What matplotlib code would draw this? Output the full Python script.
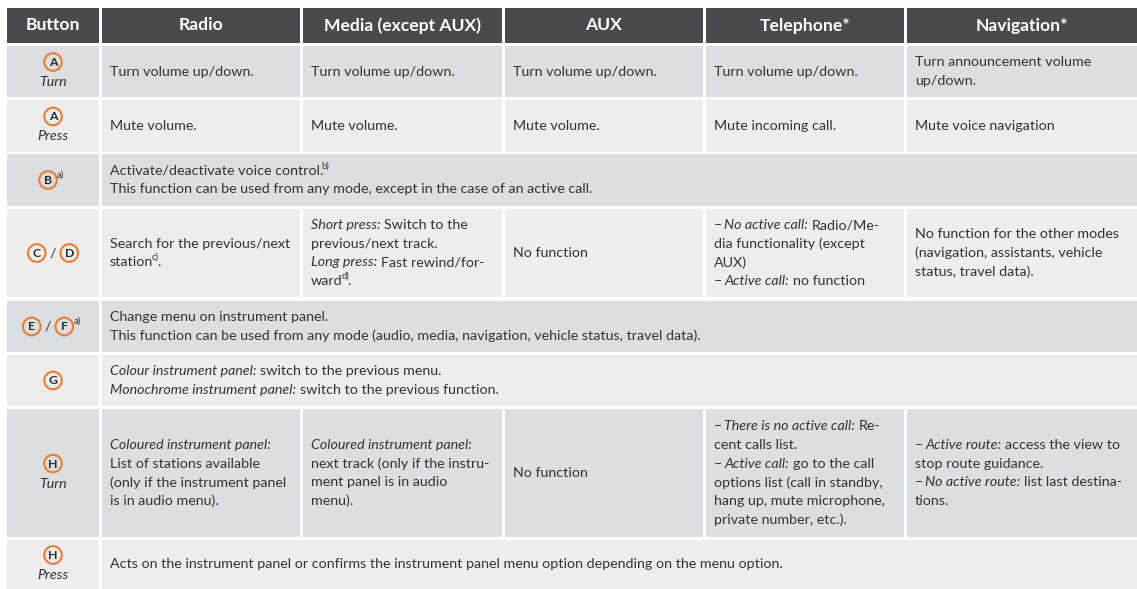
import re
import matplotlib.pyplot as plt
from matplotlib.patches import Rectangle, Circle

plt.rcParams['font.family'] = ['Lato', 'DejaVu Sans']

# table content
columns = ['Button', 'Radio', 'Media (except AUX)', 'AUX', 'Telephone*', 'Navigation*']

buttons = [(['A'], 'Turn', ''), (['A'], 'Press', ''), (['B'], '', 'a)'), (['C', 'D'], '', ''),
           (['E', 'F'], '', 'a)'), (['G'], '', ''), (['H'], 'Turn', ''), (['H'], 'Press', '')]

# '*...*' = italic, '^{...}' = superscript, a plain string = merged row
cells = [
    ['Turn volume up/down.', 'Turn volume up/down.', 'Turn volume up/down.', 'Turn volume up/down.',
     'Turn announcement volume\nup/down.'],
    ['Mute volume.', 'Mute volume.', 'Mute volume.', 'Mute incoming call.', 'Mute voice navigation'],
    'Activate/deactivate voice control.^{b)}\n'
    'This function can be used from any mode, except in the case of an active call.',
    ['Search for the previous/next\nstation^{c)}.',
     '*Short press:* Switch to the\nprevious/next track.\n*Long press:* Fast rewind/for-\nward^{d)}.',
     'No function',
     '– *No active call:* Radio/Me-\ndia functionality (except\nAUX)\n– *Active call:* no function',
     'No function for the other modes\n(navigation, assistants, vehicle\nstatus, travel data).'],
    'Change menu on instrument panel.\n'
    'This function can be used from any mode (audio, media, navigation, vehicle status, travel data).',
    '*Colour instrument panel:* switch to the previous menu.\n'
    '*Monochrome instrument panel:* switch to the previous function.',
    ['*Coloured instrument panel:*\nList of stations available\n(only if the instrument panel\nis in audio menu).',
     '*Coloured instrument panel:*\nnext track (only if the instru-\nment panel is in audio\nmenu).',
     'No function',
     '– *There is no active call:* Re-\ncent calls list.\n– *Active call:* go to the call\n'
     'options list (call in standby,\nhang up, mute microphone,\nprivate number, etc.).',
     '– *Active route:* access the view to\nstop route guidance.\n– *No active route:* list last destina-\ntions.'],
    'Acts on the instrument panel or confirms the instrument panel menu option depending on the menu option.',
]

title = 'Application of the buttons depending on the operating mode'

# layout (pixels)
W, H = 1137, 589
col_edges = [(7, 99), (102, 300), (303, 502), (505, 703), (706, 904), (907, 1137)]
row_edges = [(8, 43), (46, 97), (100, 152), (154, 206), (209, 297), (301, 352),
             (355, 406), (409, 537), (540, 589)]
header_bg = '#4a4a4c'
row_bg = ['#dddee0', '#ededed']
txt_col = '#333333'
orange = '#ef7a38'
fs = 10.3
lh = 18.6

fig = plt.figure(figsize=(W / 100, H / 100), dpi=100)
ax = fig.add_axes([0, 0, 1, 1])
ax.set_xlim(0, W)
ax.set_ylim(H, 0)
ax.axis('off')
renderer = fig.canvas.get_renderer()


def width(s, **kw):
    t = ax.text(0, 0, s, **kw)
    w = t.get_window_extent(renderer).width
    t.remove()
    return w


space_w = width('x x', fontsize=fs) - width('xx', fontsize=fs)


def draw_line(x, y, line):
    for tok in re.split(r'(\*[^*]+\*|\^\{[^}]+\})', line):
        if not tok:
            continue
        kw = dict(fontsize=fs, color=txt_col, va='center', ha='left')
        dy = 0
        trim = 1.5
        if tok.startswith('*'):
            s = tok[1:-1]
            kw['style'] = 'italic'
            trim = 0
        elif tok.startswith('^{'):
            s = tok[2:-1]
            kw['fontsize'] = fs * 0.66
            dy = -5
        else:
            s = tok
        x += (len(s) - len(s.lstrip(' '))) * space_w
        core = s.strip(' ')
        if core:
            t = ax.text(x, y + dy, core, **kw)
            x += t.get_window_extent(renderer).width - trim
        x += (len(s) - len(s.rstrip(' '))) * space_w


def draw_cell(x0, x1, y0, y1, text, bg):
    ax.add_patch(Rectangle((x0, y0), x1 - x0, y1 - y0, color=bg, lw=0))
    lines = text.split('\n')
    cy = (y0 + y1) / 2
    for i, line in enumerate(lines):
        draw_line(x0 + 8, cy + (i - (len(lines) - 1) / 2) * lh, line)


def draw_button(cy, letters, action, sup):
    cx = (col_edges[0][0] + col_edges[0][1]) / 2
    if action:
        ly = cy - 9.5
        ax.text(cx, cy + 10.5, action, fontsize=fs, style='italic', color=txt_col, ha='center', va='center')
    else:
        ly = cy
    shift = -5 if sup else 0
    n = len(letters)
    centers = [cx + shift + (i - (n - 1) / 2) * 32.5 for i in range(n)]
    for lx, letter in zip(centers, letters):
        ax.add_patch(Circle((lx, ly), 8.8, fill=False, ec=orange, lw=1.5))
        ax.text(lx, ly + 0.5, letter, fontsize=8.8, fontweight='bold', color='#2a2a2a', ha='center', va='center')
    if n > 1:
        ax.text(cx + shift, ly, '/', fontsize=fs, color=txt_col, ha='center', va='center')
    if sup:
        ax.text(centers[-1] + 9, ly - 5, sup, fontsize=fs * 0.66, color=txt_col, ha='left', va='center')


# partly hidden title above the table, only its descenders show
ax.text(7, -1.5, title, fontsize=10, fontweight='bold', color=orange, ha='left', va='baseline')

# header
hy0, hy1 = row_edges[0]
for (x0, x1), name in zip(col_edges, columns):
    ax.add_patch(Rectangle((x0, hy0), x1 - x0, hy1 - hy0, color=header_bg, lw=0))
    ax.text((x0 + x1) / 2, (hy0 + hy1) / 2, name, fontsize=12.6, fontweight='bold', color='white',
            ha='center', va='center')

# body
for r, ((y0, y1), btn, row) in enumerate(zip(row_edges[1:], buttons, cells)):
    bg = row_bg[r % 2]
    bx0, bx1 = col_edges[0]
    ax.add_patch(Rectangle((bx0, y0), bx1 - bx0, y1 - y0, color=bg, lw=0))
    draw_button((y0 + y1) / 2, *btn)
    if isinstance(row, str):
        draw_cell(col_edges[1][0], col_edges[-1][1], y0, y1, row, bg)
    else:
        for (x0, x1), text in zip(col_edges[1:], row):
            draw_cell(x0, x1, y0, y1, text, bg)

fig.savefig('out.png', dpi=100, facecolor='white')
